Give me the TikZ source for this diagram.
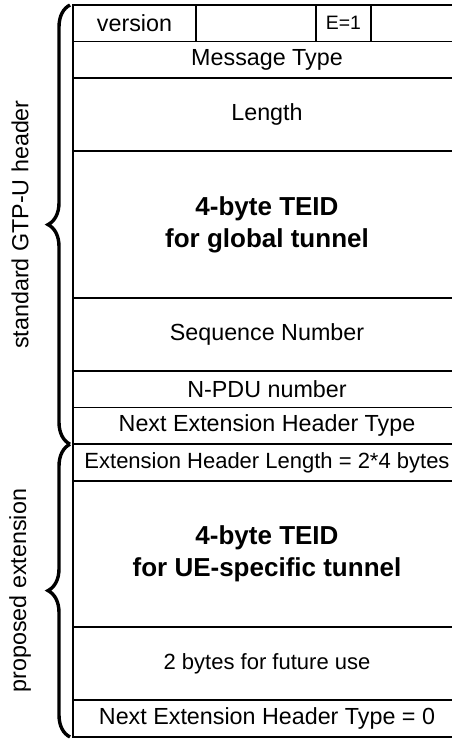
\documentclass[tikz,border=0pt]{standalone}
\usepackage{fontspec}
\setmainfont{Liberation Sans}
\usetikzlibrary{positioning,decorations.pathreplacing}

\newcommand{\rowh}{18.3pt}

\begin{document}
\begin{tikzpicture}[
  x=1pt, y=1pt,
  cell/.style={draw, line width=0.9pt, outer sep=0pt, inner sep=0pt,
               minimum height=\rowh, align=center,
               font=\fontsize{11.65}{14}\selectfont},
  field/.style={cell, minimum width=194pt},
  tall/.style={minimum height=#1*\rowh},
  small/.style={font=\fontsize{11}{13}\selectfont},
  bold/.style={font=\fontsize{13}{16}\selectfont\bfseries},
  brace/.style={decorate, decoration={brace, amplitude=11pt}, line width=1.7pt},
  sidelabel/.style={rotate=90, font=\fontsize{11.65}{14}\selectfont},
  node distance=0pt
]
  \useasboundingbox (0,0) rectangle (225.5,371.5);

  % first row: flags
  \node[cell, minimum width=61.5pt, anchor=north west] (version) at (36.5,369) {version};
  \node[cell, minimum width=60pt, right=0pt of version] (pt) {};
  \node[cell, minimum width=27.5pt, right=0pt of pt, font=\fontsize{9.7}{12}\selectfont] (eflag) {E=1};
  \node[cell, minimum width=45pt, right=0pt of eflag] (rest) {};

  % standard header
  \node[field, below=0pt of version.south west, anchor=north west] (msgtype) {Message Type};
  \node[field, tall=2, below=0pt of msgtype] (length) {Length};
  \node[field, tall=4, below=0pt of length, bold] (teid) {4-byte TEID\\for global tunnel};
  \node[field, tall=2, below=0pt of teid] (seqnum) {Sequence Number};
  \node[field, below=0pt of seqnum] (npdu) {N-PDU number};
  \node[field, below=0pt of npdu] (nexthdr) {Next Extension Header Type};

  % extension
  \node[field, below=0pt of nexthdr, small] (extlen) {Extension Header Length = 2*4 bytes};
  \node[field, tall=4, below=0pt of extlen, bold] (ueteid) {4-byte TEID\\for UE-specific tunnel};
  \node[field, tall=2, below=0pt of ueteid, small] (future) {2 bytes for future use};
  \node[field, below=0pt of future] (lasthdr) {Next Extension Header Type = 0};

  % braces
  \draw[brace] ([xshift=-1.5pt]nexthdr.south west) -- ([xshift=-1.5pt]version.north west)
    node[sidelabel, midway, yshift=25pt] (stdlabel) {standard GTP-U header};
  \draw[brace] ([xshift=-1.5pt]lasthdr.south west) -- ([xshift=-1.5pt]extlen.north west)
    node[sidelabel, midway, yshift=25pt] (extlabel) {proposed extension};
\end{tikzpicture}
\end{document}
